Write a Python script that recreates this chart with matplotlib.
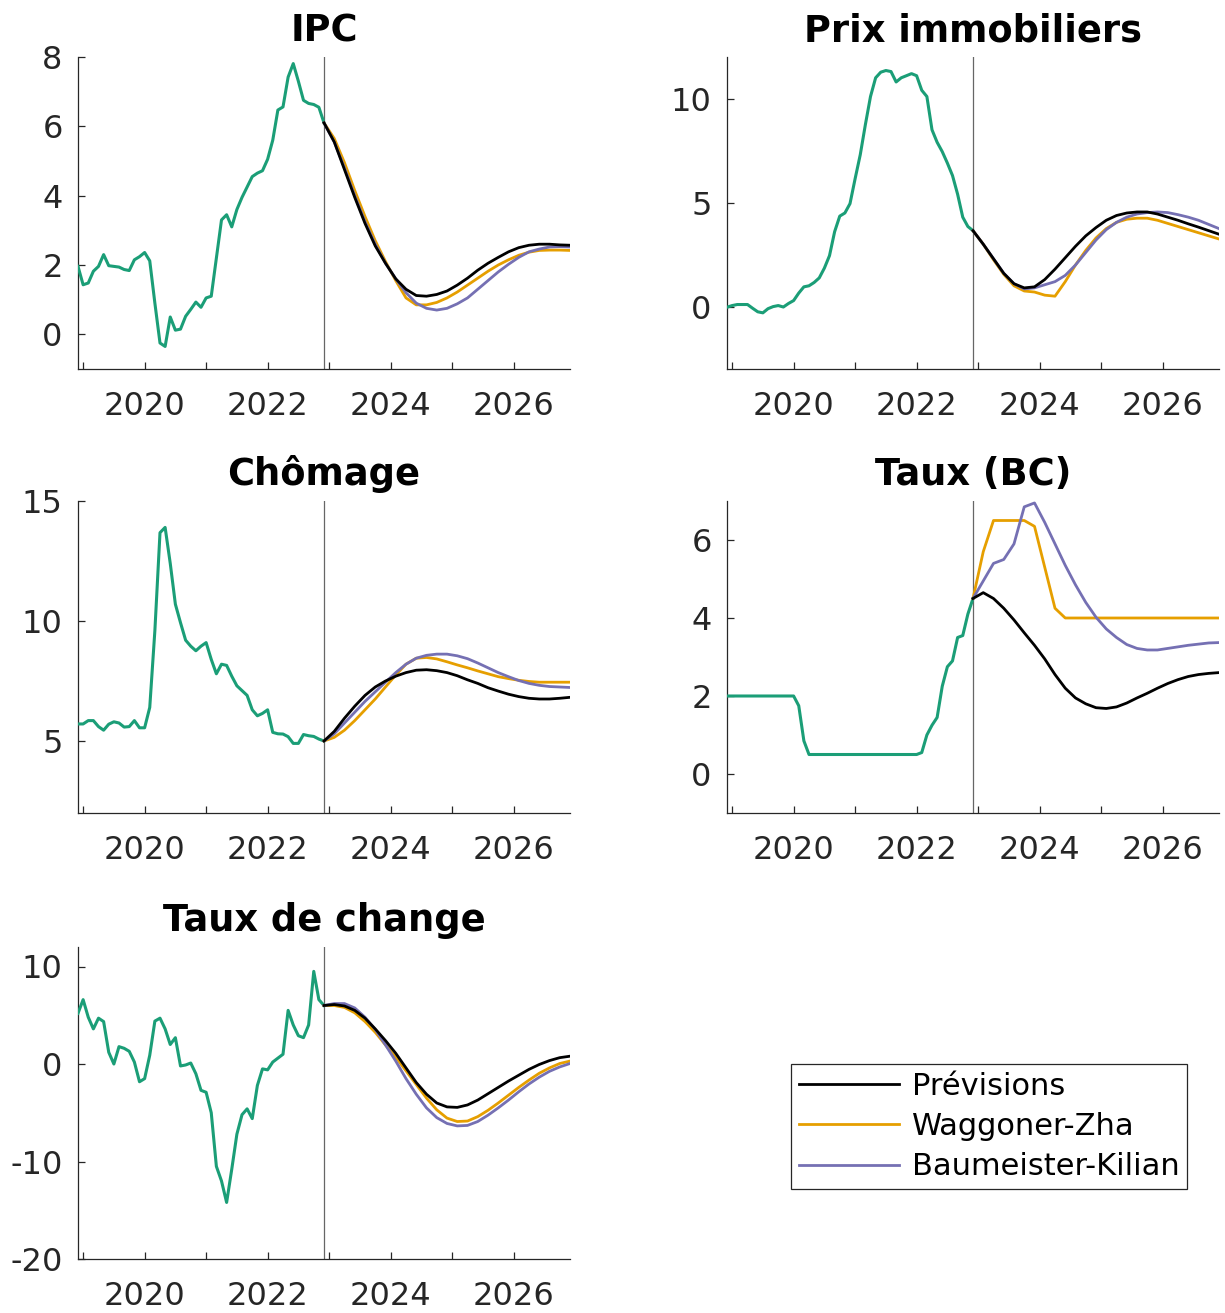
import numpy as np
import matplotlib
matplotlib.use("Agg")
import matplotlib.pyplot as plt

plt.rcParams['font.family'] = 'DejaVu Sans'
plt.rcParams['axes.unicode_minus'] = False

# --- donnees (mensuelles, dec 2018 -> dec 2022 pour l'historique) ---
t_hist = 2018 + 11 / 12 + np.arange(49) / 12
# previsions tous les deux mois, dec 2022 -> dec 2026
t_fc = 2022 + 11 / 12 + np.arange(0, 49, 2) / 12

ipc_hist = [1.96, 1.43, 1.48, 1.82, 1.96, 2.3, 1.98, 1.96, 1.94, 1.87, 1.84, 2.15,
            2.24, 2.36, 2.12, 0.9, -0.25, -0.35, 0.5, 0.12, 0.15, 0.52, 0.72, 0.93,
            0.78, 1.05, 1.1, 2.2, 3.3, 3.45, 3.1, 3.6, 3.95, 4.25, 4.55, 4.65,
            4.72, 5.05, 5.6, 6.47, 6.56, 7.42, 7.81, 7.3, 6.75, 6.66, 6.63, 6.55, 6.1]
ipc_prev = [6.1, 5.55, 4.75, 3.95, 3.2, 2.55, 2.05, 1.6, 1.3, 1.12, 1.1, 1.15, 1.25,
            1.42, 1.62, 1.85, 2.05, 2.22, 2.38, 2.5, 2.57, 2.6, 2.6, 2.58, 2.57]
ipc_wz = [6.1, 5.65, 4.95, 4.15, 3.4, 2.7, 2.1, 1.55, 1.05, 0.85, 0.85, 0.92, 1.05,
          1.22, 1.42, 1.62, 1.82, 2.0, 2.15, 2.28, 2.37, 2.42, 2.43, 2.43, 2.42]
ipc_bk = [6.1, 5.55, 4.8, 4.0, 3.25, 2.6, 2.05, 1.6, 1.2, 0.9, 0.75, 0.7, 0.75,
          0.88, 1.05, 1.3, 1.55, 1.8, 2.02, 2.22, 2.38, 2.46, 2.52, 2.53, 2.52]

immo_hist = [-0.03, 0.05, 0.1, 0.1, 0.1, -0.08, -0.25, -0.3, -0.1, 0.0, 0.05, -0.02,
             0.15, 0.29, 0.65, 0.95, 1.0, 1.16, 1.38, 1.85, 2.45, 3.6, 4.35, 4.5,
             4.95, 6.15, 7.3, 8.75, 10.1, 11.0, 11.27, 11.35, 11.3, 10.8, 11.0, 11.1,
             11.2, 11.1, 10.4, 10.1, 8.5, 7.9, 7.45, 6.9, 6.3, 5.4, 4.3, 3.85, 3.65]
immo_prev = [3.65, 3.0, 2.3, 1.6, 1.1, 0.9, 0.95, 1.3, 1.8, 2.35, 2.9, 3.4, 3.8,
             4.15, 4.38, 4.5, 4.55, 4.55, 4.45, 4.3, 4.15, 3.98, 3.82, 3.65, 3.48]
immo_wz = [3.65, 3.0, 2.25, 1.55, 1.0, 0.75, 0.7, 0.55, 0.5, 1.2, 2.0, 2.7, 3.3,
           3.75, 4.05, 4.2, 4.25, 4.25, 4.15, 4.0, 3.85, 3.7, 3.55, 3.4, 3.25]
immo_bk = [3.65, 3.0, 2.3, 1.6, 1.1, 0.85, 0.9, 1.05, 1.2, 1.5, 2.0, 2.6, 3.2,
           3.7, 4.05, 4.3, 4.45, 4.52, 4.55, 4.52, 4.42, 4.3, 4.15, 3.95, 3.75]

chom_hist = [5.71, 5.71, 5.85, 5.85, 5.6, 5.45, 5.7, 5.8, 5.75, 5.58, 5.6, 5.85,
             5.55, 5.55, 6.4, 9.6, 13.68, 13.9, 12.4, 10.7, 9.93, 9.2, 8.95, 8.76,
             8.95, 9.1, 8.4, 7.8, 8.2, 8.15, 7.7, 7.3, 7.1, 6.9, 6.3, 6.05,
             6.15, 6.3, 5.36, 5.3, 5.29, 5.18, 4.9, 4.9, 5.27, 5.22, 5.19, 5.08, 5.0]
chom_prev = [5.0, 5.4, 5.95, 6.45, 6.9, 7.25, 7.5, 7.7, 7.85, 7.95, 7.97, 7.93, 7.85,
             7.72, 7.55, 7.4, 7.22, 7.08, 6.95, 6.85, 6.78, 6.75, 6.75, 6.78, 6.82]
chom_wz = [5.0, 5.15, 5.45, 5.85, 6.3, 6.75, 7.25, 7.75, 8.2, 8.45, 8.48, 8.42, 8.3,
           8.17, 8.05, 7.92, 7.8, 7.68, 7.6, 7.53, 7.48, 7.45, 7.45, 7.45, 7.45]
chom_bk = [5.0, 5.3, 5.75, 6.2, 6.65, 7.05, 7.45, 7.85, 8.2, 8.45, 8.57, 8.62, 8.62,
           8.55, 8.43, 8.25, 8.05, 7.85, 7.68, 7.52, 7.4, 7.32, 7.27, 7.25, 7.23]

taux_hist = [2.0, 2.0, 2.0, 2.0, 2.0, 2.0, 2.0, 2.0, 2.0, 2.0, 2.0, 2.0,
             2.0, 2.0, 1.75, 0.85, 0.5, 0.5, 0.5, 0.5, 0.5, 0.5, 0.5, 0.5,
             0.5, 0.5, 0.5, 0.5, 0.5, 0.5, 0.5, 0.5, 0.5, 0.5, 0.5, 0.5,
             0.5, 0.5, 0.55, 1.0, 1.25, 1.45, 2.25, 2.75, 2.9, 3.5, 3.55, 4.1, 4.5]
taux_prev = [4.5, 4.65, 4.5, 4.25, 3.95, 3.62, 3.3, 2.95, 2.55, 2.2, 1.95, 1.8, 1.7,
             1.68, 1.72, 1.82, 1.95, 2.07, 2.2, 2.32, 2.42, 2.5, 2.55, 2.58, 2.6]
taux_wz = [4.5, 5.7, 6.5, 6.5, 6.5, 6.5, 6.35, 5.3, 4.25, 4.0, 4.0, 4.0, 4.0,
           4.0, 4.0, 4.0, 4.0, 4.0, 4.0, 4.0, 4.0, 4.0, 4.0, 4.0, 4.0]
taux_bk = [4.5, 4.95, 5.4, 5.5, 5.9, 6.85, 6.95, 6.45, 5.9, 5.35, 4.85, 4.4, 4.02,
           3.72, 3.5, 3.32, 3.22, 3.18, 3.18, 3.22, 3.26, 3.3, 3.33, 3.36, 3.37]

chg_hist = [5.2, 6.6, 4.8, 3.6, 4.7, 4.35, 1.2, 0.0, 1.78, 1.61, 1.3, 0.2,
            -1.82, -1.5, 0.9, 4.4, 4.7, 3.6, 2.0, 2.7, -0.2, -0.1, 0.1, -1.0,
            -2.7, -2.9, -5.0, -10.5, -12.0, -14.2, -10.8, -7.2, -5.2, -4.6, -5.6, -2.2,
            -0.5, -0.6, 0.2, 0.6, 1.0, 5.5, 4.0, 2.9, 2.7, 4.0, 9.5, 6.6, 6.0]
chg_prev = [6.0, 6.1, 5.95, 5.5, 4.7, 3.6, 2.4, 1.1, -0.4, -1.9, -3.1, -4.0, -4.4,
            -4.45, -4.2, -3.7, -3.05, -2.4, -1.75, -1.15, -0.55, -0.05, 0.35, 0.65, 0.8]
chg_wz = [6.0, 6.0, 5.8, 5.25, 4.35, 3.25, 1.95, 0.7, -0.7, -2.1, -3.5, -4.7, -5.55,
          -5.9, -5.85, -5.4, -4.75, -4.0, -3.2, -2.4, -1.65, -0.95, -0.4, 0.05, 0.3]
chg_bk = [6.0, 6.2, 6.2, 5.75, 4.8, 3.55, 1.95, 0.3, -1.5, -3.1, -4.5, -5.5, -6.1,
          -6.35, -6.3, -5.9, -5.25, -4.5, -3.7, -2.85, -2.05, -1.35, -0.75, -0.3, 0.05]

titles = ['IPC', 'Prix immobiliers', 'Chômage', 'Taux (BC)', 'Taux de change']
ylims = [(-1, 8), (-3, 12), (2, 15), (-1, 7), (-20, 12)]
yticks = [[0, 2, 4, 6, 8], [0, 5, 10], [5, 10, 15], [0, 2, 4, 6], [-20, -10, 0, 10]]
panels = [
    (ipc_hist, ipc_prev, ipc_wz, ipc_bk),
    (immo_hist, immo_prev, immo_wz, immo_bk),
    (chom_hist, chom_prev, chom_wz, chom_bk),
    (taux_hist, taux_prev, taux_wz, taux_bk),
    (chg_hist, chg_prev, chg_wz, chg_bk),
]
labels = ['Prévisions', 'Waggoner-Zha', 'Baumeister-Kilian']

c_hist = '#1b9e77'
c_prev = 'black'
c_wz = '#e69f00'
c_bk = '#7570b3'
c_ax = '#262626'

W, H = 1225, 1313
fig = plt.figure(figsize=(W / 100, H / 100), dpi=100)

# positions des axes en pixels (gauche, haut, largeur, hauteur)
lefts = [78, 727]
tops = [57, 501, 947]
aw, ah = 492, 312

for i, (hist, prev, wz, bk) in enumerate(panels):
    col = i % 2
    row = i // 2
    l = lefts[col]
    t = tops[row]
    ax = fig.add_axes([l / W, 1 - (t + ah) / H, aw / W, ah / H])

    ax.axvline(2022 + 11 / 12, color='0.4', lw=0.9, zorder=1)
    ax.plot(t_hist, hist, color=c_hist, lw=2.2, zorder=3)
    h1, = ax.plot(t_fc, prev, color=c_prev, lw=2.0, zorder=4)
    h2, = ax.plot(t_fc, wz, color=c_wz, lw=2.0, zorder=3)
    h3, = ax.plot(t_fc, bk, color=c_bk, lw=2.0, zorder=3)

    ax.set_xlim(2018 + 11 / 12, 2026 + 11 / 12)
    ax.set_ylim(*ylims[i])
    ax.set_xticks(range(2019, 2027))
    ax.set_xticklabels([str(y) if y % 2 == 0 else '' for y in range(2019, 2027)])
    ax.set_yticks(yticks[i])
    ax.set_yticklabels([str(v) for v in yticks[i]])

    for s in ['top', 'right']:
        ax.spines[s].set_visible(False)
    for s in ['left', 'bottom']:
        ax.spines[s].set_color(c_ax)
        ax.spines[s].set_linewidth(0.9)
    ax.tick_params(axis='both', direction='in', length=5, width=0.9,
                   color=c_ax, labelcolor=c_ax, labelsize=23)
    ax.tick_params(axis='x', pad=16)
    ax.tick_params(axis='y', pad=11)
    ax.set_title(titles[i], fontsize=26.5, fontweight='bold', pad=11.5, color='black')

leg = fig.legend([h1, h2, h3], labels, loc='upper left',
                 bbox_to_anchor=(791 / W, 1 - 1064 / H), borderaxespad=0,
                 fontsize=22, handlelength=3.3, handletextpad=0.4,
                 labelspacing=0.37, borderpad=0.25, fancybox=False, framealpha=1)
leg.get_frame().set_edgecolor(c_ax)
leg.get_frame().set_linewidth(0.9)

fig.savefig('out.png', dpi=100, facecolor='white')
